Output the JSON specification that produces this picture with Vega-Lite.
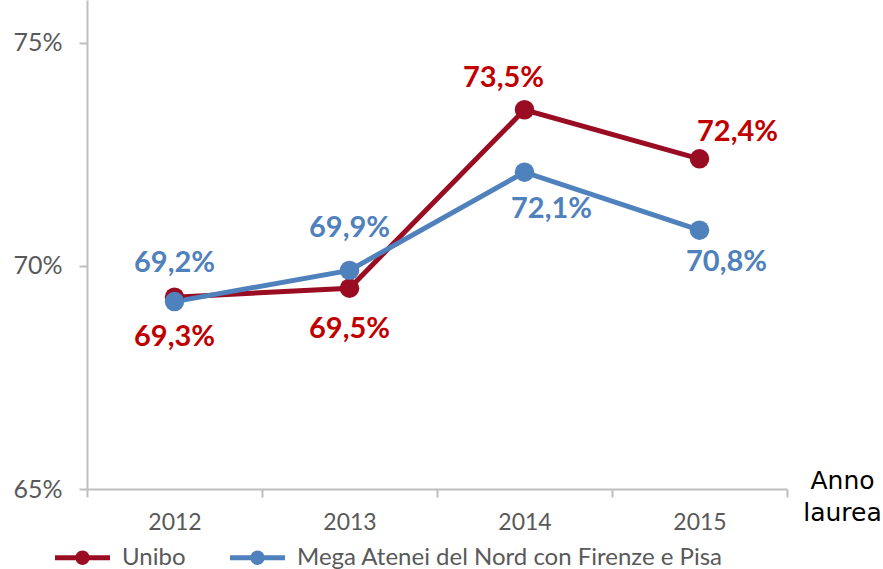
{
  "$schema": "https://vega.github.io/schema/vega-lite/v6.json",
  "autosize": "none",
  "width": 700,
  "height": 489,
  "padding": {"left": 87, "top": 0, "right": 96, "bottom": 80},
  "background": "white",
  "config": {
    "view": {"stroke": null},
    "font": "Lato"
  },
  "data": {
    "values": [
      {"series": "Unibo", "year": "2012", "value": 69.3},
      {"series": "Unibo", "year": "2013", "value": 69.5},
      {"series": "Unibo", "year": "2014", "value": 73.5},
      {"series": "Unibo", "year": "2015", "value": 72.4},
      {"series": "Mega Atenei del Nord con Firenze e Pisa", "year": "2012", "value": 69.2},
      {"series": "Mega Atenei del Nord con Firenze e Pisa", "year": "2013", "value": 69.9},
      {"series": "Mega Atenei del Nord con Firenze e Pisa", "year": "2014", "value": 72.1},
      {"series": "Mega Atenei del Nord con Firenze e Pisa", "year": "2015", "value": 70.8}
    ]
  },
  "transform": [
    {"calculate": "replace(format(datum.value, '.1f'), '.', ',') + '%'", "as": "label"}
  ],
  "encoding": {
    "x": {
      "field": "year", "type": "ordinal",
      "scale": {"type": "band", "paddingInner": 0, "paddingOuter": 0},
      "axis": {
        "title": ["Anno", "laurea"],
        "titleX": 755, "titleY": -21, "titleAlign": "center", "titleBaseline": "top",
        "titleAngle": 0, "titleFontSize": 25, "titleFontWeight": "normal", "titleColor": "#000000",
        "titleFont": "DejaVu Sans", "titleLineHeight": 32,
        "labelAngle": 0, "labelFontSize": 23, "labelColor": "#595959", "labelPadding": 14,
        "domainColor": "#BFBFBF", "domainWidth": 2, "tickColor": "#BFBFBF", "tickWidth": 2,
        "tickSize": 8, "tickBand": "extent", "grid": false
      }
    },
    "y": {
      "field": "value", "type": "quantitative",
      "scale": {"domain": [65, 75.96], "nice": false, "zero": false},
      "axis": {
        "title": null, "values": [65, 70, 75], "labelExpr": "datum.value + '%'",
        "labelFontSize": 25, "labelColor": "#595959", "labelPadding": 17,
        "domainColor": "#BFBFBF", "domainWidth": 2, "tickColor": "#BFBFBF", "tickWidth": 2,
        "tickSize": 8, "grid": false
      }
    },
    "color": {
      "field": "series", "type": "nominal",
      "scale": {"domain": ["Unibo", "Mega Atenei del Nord con Firenze e Pisa"], "range": ["#990C22", "#4F81BD"]},
      "legend": {
        "title": null, "orient": "none", "direction": "horizontal",
        "legendX": -32, "legendY": 530, "padding": 0,
        "symbolType": "M -1 -0.09 H 1 V 0.09 H -1 Z M 0.26 0 A 0.26 0.26 0 1 1 -0.26 0 A 0.26 0.26 0 1 1 0.26 0 Z",
        "symbolSize": 3025, "symbolStrokeWidth": 0, "symbolOpacity": 1,
        "labelFontSize": 24, "labelColor": "#595959", "labelOffset": 12,
        "columnPadding": 44, "labelLimit": 600
      }
    }
  },
  "layer": [
    {"mark": {"type": "line", "strokeWidth": 5}},
    {"mark": {"type": "point", "filled": true, "size": 380, "opacity": 1}},
    {
      "mark": {
        "type": "text", "fontSize": 29, "fontWeight": "bold", "baseline": "middle", "align": "center",
        "dx": {"expr": "datum.series == 'Unibo' ? (datum.year == '2014' ? -21 : datum.year == '2015' ? 38 : 0) : (datum.year == '2014' ? 27 : datum.year == '2015' ? 27 : 0)"},
        "dy": {"expr": "datum.series == 'Unibo' ? (datum.year == '2012' ? 40 : datum.year == '2013' ? 41 : datum.year == '2014' ? -32 : -27) : (datum.year == '2012' ? -39 : datum.year == '2013' ? -42 : datum.year == '2014' ? 37 : 32)"}
      },
      "encoding": {
        "text": {"field": "label"},
        "color": {
          "field": "series", "type": "nominal",
          "scale": {"domain": ["Unibo", "Mega Atenei del Nord con Firenze e Pisa"], "range": ["#990C22", "#4F81BD"]},
          "legend": null
        },
        "fill": {
          "field": "series", "type": "nominal",
          "scale": {"domain": ["Unibo", "Mega Atenei del Nord con Firenze e Pisa"], "range": ["#C00000", "#4F81BD"]},
          "legend": null
        }
      }
    }
  ],
  "resolve": {"scale": {"fill": "independent"}}
}
